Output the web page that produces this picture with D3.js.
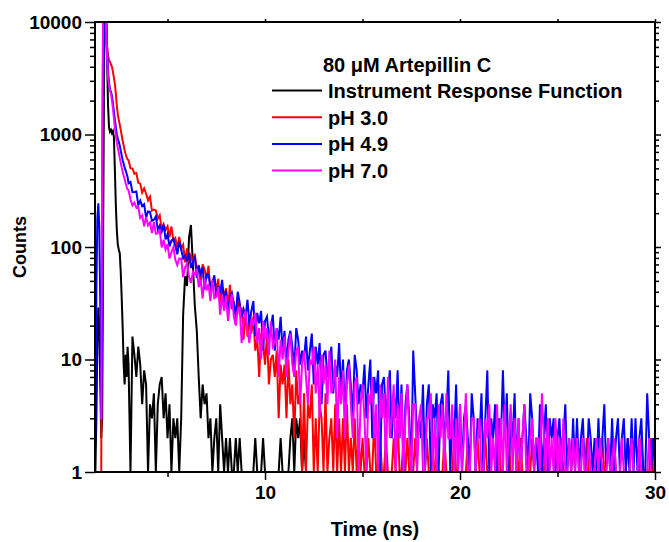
<!DOCTYPE html>
<html>
<head>
<meta charset="utf-8">
<script src="https://cdn.jsdelivr.net/npm/d3@7"></script>
<style>
body { margin: 0; background: #fff; }
text { font-family: "Liberation Sans", Arial, sans-serif; font-weight: bold; fill: #000; }
</style>
</head>
<body>
<div id="main"></div>
<script>
var ctx = {
    w: 669,
    h: 542,
    left: 95,
    right: 655,
    top: 22,
    bottom: 472,
};

// channel times of the rising edge, ns
var headTimes = [1.30, 1.35, 1.40, 1.45, 1.50, 1.55, 1.60, 1.65, 1.70, 1.75, 1.80, 1.85,
    1.90, 1.95, 2.00, 2.05, 2.10, 2.15, 2.20, 2.25, 2.30, 2.35, 2.40, 2.45, 2.50, 2.55,
    2.60, 2.65, 2.70, 2.75, 2.80, 2.85, 2.90, 2.95];
// after 3 ns the decay is kept per channel
var tailStart = 3.0;
var tailStep = 0.1;

// counts, Instrument Response Function
var irfHead = [1, 3, 14, 29, 18, 6, 2, 3, 150, 5000, 20000, 12000, 4500, 1800, 1150, 1060,
    1100, 1030, 1070, 950, 480, 230, 140, 105, 95, 88, 60, 35, 19, 9, 6, 11, 7, 13];
var irfTail = [9, 1, 16, 11, 7, 13, 9, 4, 8, 6,
    1, 4, 3, 5, 1, 4, 6, 7, 3, 5,
    2, 4, 1, 3, 2, 3, 1, 3, 25, 55,
    45, 120, 157, 70, 30, 18, 7, 3, 6, 4,
    5, 2, 3, 1, 2, 3, 1, 4, 2, 1,
    2, 1, 2, 1, 1, 2, 1, 2, 1, 1,
    1, 1, 1, 1, 1, 2, 1, 1, 1, 2,
    1, 1, 1, 1, 1, 1, 1, 1, 2, 1,
    1, 1, 1, 2, 3, 1, 3, 2, 3, 1,
    2, 1];

// counts, pH 3.0
var ph30Head = [null, null, null, null, null, null, 1, 500, 12000, 20000, 18000, 9000,
    6000, 5000, 4600, 4400, 4200, 4000, 3600, 3200, 2800, 2300, 1800, 1500, 1350, 1220,
    1100, 980, 880, 800, 720, 670, 630, 600];
var ph30Tail = [592, 500, 499, 448, 454, 372, 366, 304, 332, 299,
    260, 280, 211, 215, 211, 178, 191, 143, 160, 142,
    153, 122, 152, 114, 120, 98, 123, 97, 105, 73,
    97, 73, 84, 74, 87, 62, 69, 48, 70, 63,
    52, 68, 41, 49, 52, 42, 52, 31, 44, 37,
    43, 28, 46, 28, 33, 23, 36, 25, 29, 15,
    27, 16, 22, 17, 24, 12, 16, 7, 17, 14,
    9, 17, 6, 10, 11, 7, 12, 3, 9, 6,
    9, 3, 10, 4, 6, 2, 8, 4, 5, 1,
    5, 1, 4, 3, 6, 1, 3, 1, 4, 3,
    1, 5, 1, 2, 3, 1, 4, 1, 3, 1,
    3, 1, 4, 1, 2, 1, 3, 1, 2, 1,
    2,
    1, 1, 2, 1, 1, 3, 1, 1, 2, 1,
    1, 2, 1, 1, 1, 2, 1, 3, 1, 1,
    2, 1, 2, 1, 1, 1, 2, 1, 1, 1,
    1, 1, 2, 1, 1, 1, 1, 2, 1, 1,
    1, 2, 1, 1, 1, 1, 2, 1, 1, 1,
    1, 1, 1, 2, 1, 1, 1, 1, 2, 1,
    1, 1, 2, 1, 1, 1, 1, 1, 1, 2,
    1, 1, 1, 1, 2, 1, 1, 1, 1, 1,
    2, 1, 1, 1, 1, 1, 2, 1, 1, 1,
    1, 1, 1, 2, 1, 1, 1, 1, 1, 1,
    1, 2, 1, 1, 1, 1, 1, 2, 1, 1,
    1, 1, 1, 1, 2, 1, 1, 1, 1, 1,
    1, 1, 2, 1, 1, 1, 1, 1, 2, 1,
    1, 1, 1, 1, 1, 2, 1, 1, 1, 1,
    1, 1, 2, 1, 1, 1, 1, 2, 1, 1];

// counts, pH 4.9
var ph49Head = [2, 40, 180, 245, 150, 30, 3, 20, 2500, 15000, 20000, 12000, 6000, 3600,
    2900, 2500, 2400, 2200, 1900, 1600, 1350, 1150, 1000, 920, 860, 800, 720, 650, 590,
    550, 510, 480, 450, 420];
var ph49Tail = [368, 378, 307, 308, 311, 236, 258, 231, 240, 183,
    207, 205, 171, 175, 187, 143, 155, 137, 158, 117,
    130, 101, 114, 118, 102, 86, 111, 96, 79, 84,
    75, 89, 65, 74, 82, 53, 68, 58, 66, 42,
    57, 57, 44, 48, 56, 36, 45, 39, 51, 32,
    41, 27, 35, 39, 31, 24, 40, 32, 24, 28,
    24, 34, 20, 27, 33, 16, 26, 21, 27, 12,
    22, 24, 15, 19, 25, 12, 19, 15, 24, 12,
    18, 9, 15, 18, 13, 8, 19, 15, 9, 12,
    10, 16, 8, 12, 17, 6, 13, 9, 14, 4,
    11, 12, 7, 9, 13, 5, 9, 7, 14, 5,
    10, 3, 8, 10, 6, 3, 11, 8, 4, 6,
    5, 9, 3, 6, 10, 2, 7, 5, 8, 1,
    6, 7, 3, 5, 8, 2, 5, 3, 8, 2,
    6, 1, 4, 6, 3, 1, 12, 5, 2, 3,
    2, 6, 1, 4, 6, 1, 4, 3, 5, 1,
    4, 5, 2, 3, 8, 1, 3, 2, 6, 1,
    4, 1, 3, 4, 2, 1, 5, 3, 1, 3,
    2, 5, 1, 3, 8, 1, 3, 2, 4, 1,
    3, 2, 8, 2, 5, 1, 3, 2, 5, 1,
    3, 1, 2, 4, 2, 1, 5, 3, 1, 2,
    1, 4, 1, 2, 4, 1, 3, 2, 3, 1,
    2, 3, 1, 2, 4, 1, 2, 1, 3, 1,
    3, 1, 2, 3, 1, 1, 3, 2, 1, 2,
    1, 3, 1, 2, 4, 1, 2, 1, 3, 1,
    2, 3, 1, 2, 3, 1, 2, 1, 3, 1,
    3, 1, 2, 3, 1, 1, 5, 2, 1, 2, 1];

// counts, pH 7.0
var ph70Head = [null, null, null, null, null, 3, 3, 800, 14000, 20000, 16000, 9000, 5000,
    3200, 2700, 2450, 2300, 2000, 1700, 1400, 1150, 980, 850, 760, 690, 620, 560, 510,
    470, 430, 400, 370, 345, 325];
var ph70Tail = [319, 266, 234, 248, 224, 229, 181, 191, 153, 185,
    156, 165, 133, 167, 131, 132, 141, 99, 116, 95,
    106, 79, 90, 100, 77, 69, 79, 79, 54, 66,
    71, 55, 48, 60, 57, 64, 44, 51, 35, 53,
    41, 47, 33, 51, 35, 36, 44, 25, 37, 27,
    37, 22, 31, 38, 24, 20, 28, 29, 14, 23,
    27, 18, 14, 23, 20, 26, 14, 19, 10, 22,
    15, 19, 11, 22, 13, 14, 19, 7, 15, 10,
    16, 7, 12, 17, 9, 7, 12, 13, 4, 9,
    12, 7, 4, 10, 9, 13, 5, 9, 3, 11,
    6, 9, 4, 12, 5, 6, 10, 2, 7, 4,
    8, 2, 6, 9, 4, 2, 6, 7, 1, 4,
    6, 3, 1, 5, 4, 7, 2, 4, 1, 6,
    3, 5, 1, 7, 2, 3, 6, 1, 4, 2,
    5, 1, 3, 6, 2, 1, 4, 4, 1, 3,
    4, 1, 1, 3, 3, 5, 1, 3, 1, 4,
    2, 4, 1, 5, 2, 2, 4, 1, 3, 1,
    4, 1, 2, 5, 1, 1, 3, 3, 1, 2,
    3, 1, 1, 3, 2, 4, 1, 2, 1, 4,
    1, 3, 1, 4, 1, 2, 4, 1, 3, 1,
    3, 1, 2, 4, 1, 1, 2, 3, 1, 2,
    2, 1, 5, 2, 1, 3, 1, 2, 1, 3,
    1, 2, 1, 3, 1, 1, 2, 1, 2, 1,
    2,
    1, 1, 2, 1, 1, 2, 1, 1, 1, 2,
    1, 2, 1, 1, 1, 2, 1, 1, 2, 1,
    1, 1, 2, 1, 1, 1, 1, 2, 1, 1,
    1, 2, 1, 1, 1, 1, 2, 1, 1, 1];

var seriesNames = ["Instrument Response Function", "pH 3.0", "pH 4.9", "pH 7.0"];
var seriesColors = ["#000000", "#ff0000", "#0000ff", "#ff00ff"];
var legendTitle = "80 \u03bcM Artepillin C";

var xDomain = [1.28, 30];
var xMajorTicks = [10, 20, 30];
var xMinorTicks = [5, 15, 25];
var yDomain = [1, 10000];
var yMajorTicks = [1, 10, 100, 1000, 10000];

var toPoints = function (head, tail) {
    var pts = headTimes.map((t, i) => [t, head[i]]);
    tail.forEach((c, i) => pts.push([tailStart + i * tailStep, c]));
    return pts;
};

var series = [
    toPoints(irfHead, irfTail),
    toPoints(ph30Head, ph30Tail),
    toPoints(ph49Head, ph49Tail),
    toPoints(ph70Head, ph70Tail),
];

var svg = d3.select("#main").append("svg")
    .attr("width", ctx.w)
    .attr("height", ctx.h);

var x = d3.scaleLinear().domain(xDomain).range([ctx.left, ctx.right]);
var y = d3.scaleLog().domain(yDomain).range([ctx.bottom, ctx.top]);

svg.append("clipPath").attr("id", "plot-clip")
    .append("rect")
    .attr("x", ctx.left)
    .attr("y", ctx.top)
    .attr("width", ctx.right - ctx.left)
    .attr("height", ctx.bottom - ctx.top + 1);

var line = d3.line()
    .defined((d) => d[1] != null)
    .x((d) => x(d[0]))
    .y((d) => y(d[1]));

svg.append("g").attr("clip-path", "url(#plot-clip)")
    .selectAll("path")
    .data(series)
    .enter()
    .append("path")
    .attr("d", line)
    .attr("fill", "none")
    .attr("stroke", (d, i) => seriesColors[i])
    .attr("stroke-width", 2)
    .attr("stroke-linejoin", "miter");

/* axes */
var yMinorTicks = y.ticks().filter((v) => yMajorTicks.indexOf(v) < 0);

var styleAxis = function (g) {
    g.select(".domain").remove();
    g.selectAll(".tick line").attr("stroke", "#000").attr("stroke-width", 1.5);
    g.selectAll(".tick text").style("font-size", "19px").attr("fill", "#000");
};

svg.append("g")
    .attr("transform", `translate(0,${ctx.bottom})`)
    .call(d3.axisBottom(x).tickValues(xMajorTicks).tickSize(8).tickPadding(6))
    .call(styleAxis);
svg.append("g")
    .attr("transform", `translate(0,${ctx.bottom})`)
    .call(d3.axisBottom(x).tickValues(xMinorTicks).tickSize(5).tickFormat(""))
    .call(styleAxis);
svg.append("g")
    .attr("transform", `translate(0,${ctx.top})`)
    .call(d3.axisTop(x).tickValues(xMajorTicks.concat(xMinorTicks)).tickSize(3).tickFormat(""))
    .call(styleAxis);

svg.append("g")
    .attr("transform", `translate(${ctx.left},0)`)
    .call(d3.axisLeft(y).tickValues(yMajorTicks).tickSize(10).tickPadding(3)
        .tickFormat(d3.format("d")))
    .call(styleAxis);
svg.append("g")
    .attr("transform", `translate(${ctx.left},0)`)
    .call(d3.axisLeft(y).tickValues(yMinorTicks).tickSize(5).tickFormat(""))
    .call(styleAxis);
svg.append("g")
    .attr("transform", `translate(${ctx.right},0)`)
    .call(d3.axisRight(y).tickValues(yMajorTicks).tickSize(6).tickFormat(""))
    .call(styleAxis);
svg.append("g")
    .attr("transform", `translate(${ctx.right},0)`)
    .call(d3.axisRight(y).tickValues(yMinorTicks).tickSize(4).tickFormat(""))
    .call(styleAxis);

// frame
svg.append("rect")
    .attr("x", ctx.left)
    .attr("y", ctx.top)
    .attr("width", ctx.right - ctx.left)
    .attr("height", ctx.bottom - ctx.top)
    .attr("fill", "none")
    .attr("stroke", "#000")
    .attr("stroke-width", 2);

// axis titles
svg.append("text")
    .attr("x", (ctx.left + ctx.right) / 2)
    .attr("y", 536)
    .attr("text-anchor", "middle")
    .style("font-size", "20px")
    .text("Time (ns)");
svg.append("text")
    .attr("transform", "translate(26,247) rotate(-90)")
    .attr("text-anchor", "middle")
    .style("font-size", "18px")
    .text("Counts");

/* legend */
var legend = svg.append("g");
legend.append("text")
    .attr("x", 323)
    .attr("y", 72)
    .style("font-size", "20px")
    .text(legendTitle);
var rows = legend.selectAll(".row")
    .data(seriesNames)
    .enter()
    .append("g")
    .attr("class", "row")
    .attr("transform", (d, i) => `translate(0,${98 + i * 26.7})`);
rows.append("line")
    .attr("x1", 272)
    .attr("x2", 322)
    .attr("y1", -7.5)
    .attr("y2", -7.5)
    .attr("stroke", (d, i) => seriesColors[i])
    .attr("stroke-width", 2);
rows.append("text")
    .attr("x", 328)
    .style("font-size", "20px")
    .text((d) => d);
</script>
</body>
</html>
